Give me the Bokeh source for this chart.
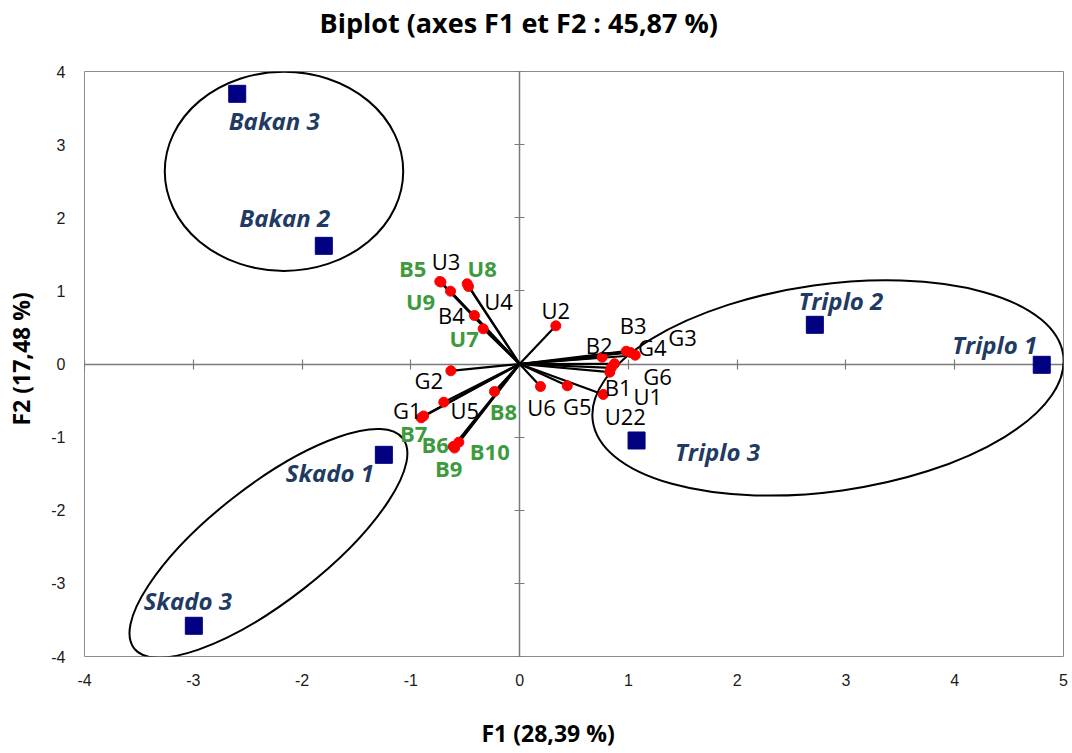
from bokeh.plotting import figure
from bokeh.models import ColumnDataSource, FixedTicker, LinearAxis, Title
from bokeh.core.properties import value
from bokeh.embed import file_html
from bokeh.resources import INLINE

# ---------------- data ----------------
x_ticks = [-4, -3, -2, -1, 0, 1, 2, 3, 4, 5]
y_ticks = [-4, -3, -2, -1, 0, 1, 2, 3, 4]

# variables (vectors)
var_names = ["B5", "U3", "U8", "U9", "U4", "B4", "U7", "U2", "B2", "B3", "G4", "G3", "G6",
             "B1", "U1", "U22", "G2", "G1", "U5", "B8", "B7", "B6", "B9", "B10", "U6", "G5"]
var_f1 = [-0.734, -0.723, -0.482, -0.635, -0.470, -0.415, -0.335, 0.333, 0.759, 0.980, 1.063, 1.019, 0.872,
          0.842, 0.829, 0.769, -0.632, -0.905, -0.697, -0.231, -0.883, -0.610, -0.598, -0.559, 0.192, 0.438]
var_f2 = [1.128, 1.121, 1.097, 0.996, 1.060, 0.663, 0.481, 0.522, 0.093, 0.175, 0.120, 0.157, 0.003,
          -0.052, -0.112, -0.417, -0.093, -0.736, -0.522, -0.376, -0.711, -1.128, -1.149, -1.069, -0.308, -0.298]
var_highlight = [True, False, True, True, False, False, True, False, False, False, False, False, False,
                 False, False, False, False, False, False, True, True, True, True, True, False, False]

# observations
obs_names = ["Bakan 3", "Bakan 2", "Skado 1", "Skado 3", "Triplo 2", "Triplo 1", "Triplo 3"]
obs_f1 = [-2.596, -1.800, -1.248, -2.995, 2.714, 4.800, 1.075]
obs_f2 = [3.695, 1.616, -1.242, -3.580, 0.536, -0.011, -1.046]

# group ellipses
grp_names = ["Bakan", "Skado", "Triplo"]
grp_cx = [-2.166, -2.309, 2.835]
grp_cy = [2.635, -2.452, -0.328]
grp_w = [2.192, 3.135, 4.367]
grp_h = [2.724, 1.573, 2.831]
grp_angle = [0, 38, 8]

title_text = "Biplot (axes F1 et F2 : 45,87 %)"
xlabel_text = "F1 (28,39 %)"
ylabel_text = "F2 (17,48 %)"

# ---------------- label placement (pixels) ----------------
var_dx = [-27, 5, 15, -30, 30, -23, -19, 0, -3, 7, 17, 52, 43,
          7, 38, 22, -22, -14, 21, 9, -10, -18, -6, 31, 1, 10]
var_dy = [-14, -21, -16, 10, 15, -1, 9, -16, -12, -26, -8, -16, 12,
          19, 24, 22, 9, -8, 8, 20, 17, -2, 20, 9, 20, 20]
obs_dx = [37, -39, -54, -6, 26, -47, 81]
obs_dy = [27, -28, 18, -25, -24, -20, 11]

# ---------------- figure ----------------
p = figure(frame_width=979, frame_height=585, x_range=(-4, 5), y_range=(-4, 4),
           output_backend="svg", toolbar_location=None, title=None,
           min_border_left=84, min_border_right=7, min_border_top=71, min_border_bottom=96)

p.grid.visible = False
p.outline_line_color = "#8c8c8c"
p.outline_line_width = 1
p.background_fill_color = "white"
p.border_fill_color = "white"

for ax, ticks in ((p.xaxis[0], x_ticks), (p.yaxis[0], y_ticks)):
    ax.ticker = FixedTicker(ticks=ticks)
    ax.major_label_overrides = {t: str(t) for t in ticks}
    ax.axis_line_color = None
    ax.major_tick_line_color = None
    ax.minor_tick_line_color = None
    ax.major_tick_out = 0
    ax.major_tick_in = 0
    ax.major_label_text_font = "Liberation Sans"
    ax.major_label_text_font_size = "16px"
    ax.major_label_text_color = "#1a1a1a"
p.xaxis[0].major_label_standoff = 17
p.yaxis[0].major_label_standoff = 19

axis_col = "#7a7a7a"
xa0 = LinearAxis(fixed_location=0, ticker=FixedTicker(ticks=x_ticks), major_tick_in=5, major_tick_out=5,
                 minor_tick_line_color=None, axis_line_color=axis_col, axis_line_width=1.5,
                 major_tick_line_color=axis_col, major_tick_line_width=1.2,
                 major_label_text_color=None, level="underlay")
ya0 = LinearAxis(fixed_location=0, ticker=FixedTicker(ticks=y_ticks), major_tick_in=5, major_tick_out=5,
                 minor_tick_line_color=None, axis_line_color=axis_col, axis_line_width=1.5,
                 major_tick_line_color=axis_col, major_tick_line_width=1.2,
                 major_label_text_color=None, level="underlay")
p.add_layout(xa0, "below")
p.add_layout(ya0, "left")

def spacer(standoff):
    return Title(text=" ", text_font="Open Sans", text_font_size="1px", standoff=standoff)

# above: spacer next to the frame, then the main title
p.add_layout(spacer(28), "above")
p.add_layout(Title(text=title_text, align="left", offset=235, standoff=0, vertical_align="bottom",
                   text_font="Open Sans", text_font_size="27px", text_font_style="bold",
                   text_color="black"), "above")
# below: spacer, then F1 title
p.add_layout(spacer(25), "below")
p.add_layout(Title(text=xlabel_text, align="left", offset=397, standoff=0, vertical_align="top",
                   text_font="Open Sans", text_font_size="23px", text_font_style="bold",
                   text_color="black"), "below")
# left: spacer, then F2 title
p.add_layout(spacer(9), "left")
p.add_layout(Title(text=ylabel_text, align="left", offset=231, standoff=0, vertical_align="bottom",
                   text_font="Open Sans", text_font_size="23px", text_font_style="bold",
                   text_color="black"), "left")

# ellipses
gsrc = ColumnDataSource(dict(x=grp_cx, y=grp_cy, w=grp_w, h=grp_h, a=grp_angle, name=grp_names))
p.ellipse(x="x", y="y", width="w", height="h", angle="a", angle_units="deg", source=gsrc,
          fill_color=None, line_color="black", line_width=2)

# vectors
vsrc = ColumnDataSource(dict(f1=var_f1, f2=var_f2, name=var_names, dx=var_dx, dy=var_dy,
                             x0=[0] * len(var_f1), y0=[0] * len(var_f1)))
p.segment(x0="x0", y0="y0", x1="f1", y1="f2", source=vsrc, line_color="black", line_width=2.2)
p.scatter(x="f1", y="f2", source=vsrc, size=10, fill_color="#ff0000", line_color="#ff0000")

# observations
osrc = ColumnDataSource(dict(f1=obs_f1, f2=obs_f2, name=obs_names, dx=obs_dx, dy=obs_dy))
p.scatter(x="f1", y="f2", source=osrc, marker="square", size=17, fill_color="#000080", line_color="#000080")

# labels
def pick(seq, flag):
    return [s for s, h in zip(seq, var_highlight) if h == flag]

for flag, col, style in ((False, "black", "normal"), (True, "#3d9a3d", "bold")):
    src = ColumnDataSource(dict(f1=pick(var_f1, flag), f2=pick(var_f2, flag), name=pick(var_names, flag),
                                dx=pick(var_dx, flag), dy=pick(var_dy, flag)))
    p.text(x="f1", y="f2", text="name", x_offset="dx", y_offset="dy", source=src,
           text_align="center", text_baseline="middle", text_font=value("Open Sans"),
           text_font_size="22px", text_font_style=style, text_color=col)

p.text(x="f1", y="f2", text="name", x_offset="dx", y_offset="dy", source=osrc,
       text_align="center", text_baseline="middle", text_font=value("Open Sans"),
       text_font_size="24px", text_font_style="bold italic", text_color="#1f3b63")

open("out.html", "w").write(file_html(p, INLINE))
